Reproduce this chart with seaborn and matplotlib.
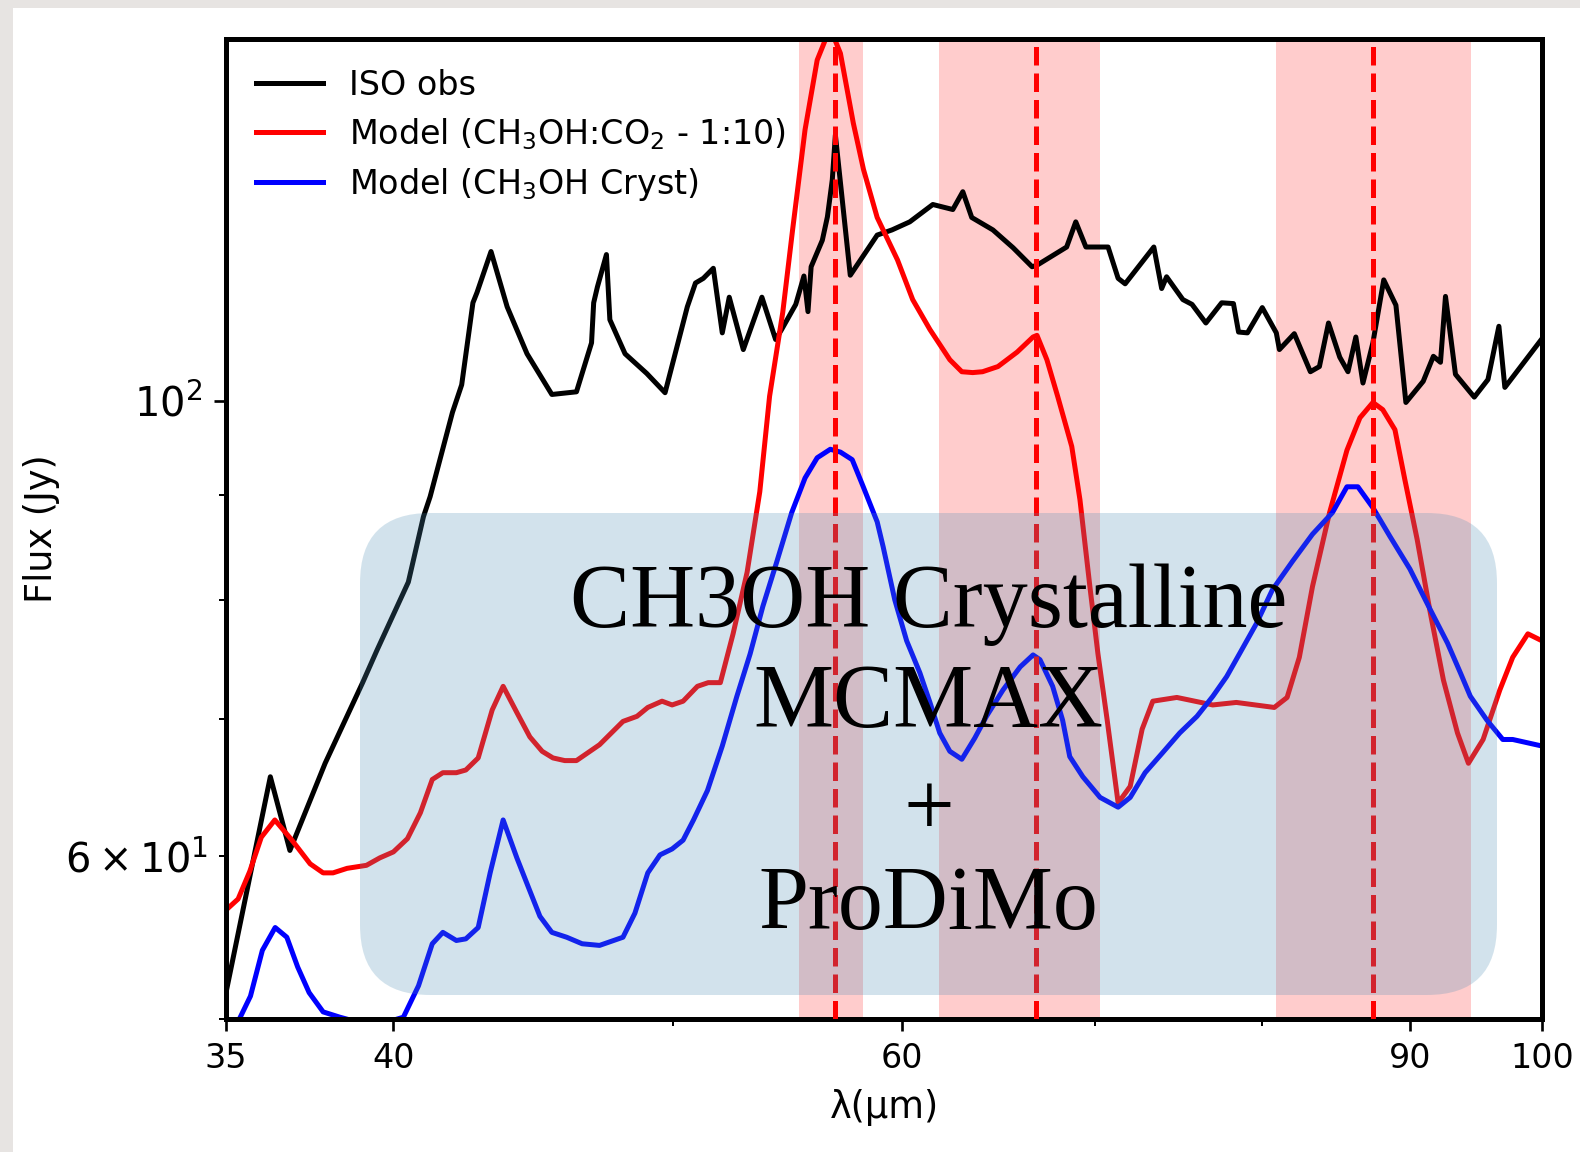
import numpy as np
import pandas as pd
import matplotlib
matplotlib.use("Agg")
import matplotlib.pyplot as plt
import seaborn as sns
from matplotlib.patches import FancyBboxPatch, Rectangle
from matplotlib.ticker import FixedLocator, FixedFormatter, NullFormatter, FuncFormatter

# ---------------- data ----------------
iso_wl = [35.03, 36.26, 36.83, 37.88, 39.03, 39.48, 40.48, 40.97, 41.19, 41.93, 42.24, 42.45,
          42.62, 42.76, 43.24, 43.8, 44.5, 45.39, 46.29, 46.85, 46.93, 47.07, 47.41, 47.54,
          48.12, 48.96, 49.68, 50.57, 50.9, 51.22, 51.63, 52.0, 52.29, 52.88, 53.67, 54.26,
          54.52, 55.14, 55.5, 55.68, 55.82, 56.32, 56.55, 56.77, 56.91, 57.59, 58.84, 59.54,
          60.39, 61.51, 62.5, 63.0, 63.45, 64.53, 65.58, 66.58, 66.84, 68.44, 68.94, 69.5,
          70.74, 71.31, 71.71, 73.37, 73.83, 74.12, 75.09, 75.64, 76.48, 77.45, 78.18, 78.5,
          79.06, 80.0, 80.9, 81.1, 82.07, 83.13, 83.73, 84.34, 85.1, 85.66, 86.2, 86.69,
          87.38, 88.14, 89.0, 89.71, 90.96, 91.7, 92.22, 92.59, 93.33, 94.74, 95.78, 96.62,
          97.08, 100.0]
iso_flux = [51.8, 65.6, 60.4, 66.6, 72.9, 75.6, 81.6, 87.8, 89.8, 98.7, 101.8, 107.1,
            111.6, 112.9, 118.2, 111.1, 105.4, 100.7, 101.0, 106.7, 111.6, 113.6, 117.8, 109.5,
            105.4, 103.1, 100.9, 111.1, 114.1, 114.7, 116.0, 107.9, 112.3, 105.9, 112.3, 107.1,
            108.3, 111.4, 115.0, 110.5, 116.2, 119.7, 122.9, 128.1, 134.7, 115.1, 120.4, 121.1,
            122.2, 124.6, 123.9, 126.4, 122.8, 121.1, 118.7, 116.2, 116.4, 118.8, 122.2, 118.8,
            118.8, 114.7, 114.0, 118.8, 113.4, 114.9, 112.0, 111.4, 109.1, 111.6, 111.5, 108.0,
            107.9, 111.0, 107.9, 105.9, 107.8, 103.3, 103.9, 109.1, 105.0, 103.3, 107.4, 102.0,
            106.7, 114.5, 111.3, 99.8, 102.2, 105.1, 104.4, 112.4, 103.0, 100.4, 102.4, 108.7,
            101.5, 107.2]

mix_wl = [35.05, 35.34, 35.67, 36.0, 36.39, 36.89, 37.43, 37.82, 38.12, 38.55, 39.15, 39.57,
          40.0, 40.45, 40.87, 41.26, 41.61, 42.06, 42.38, 42.8, 43.28, 43.66, 44.14, 44.6,
          45.04, 45.43, 45.86, 46.29, 47.15, 48.04, 48.58, 49.0, 49.56, 49.96, 50.4, 50.98,
          51.42, 51.92, 52.45, 53.04, 53.58, 54.0, 54.57, 55.0, 55.55, 56.09, 56.45, 56.82,
          57.14, 57.73, 58.2, 58.84, 59.8, 60.53, 61.37, 62.35, 62.95, 63.5, 64.0, 64.79,
          65.79, 66.63, 66.84, 67.37, 67.95, 68.72, 69.17, 69.72, 70.17, 70.69, 71.31, 72.0,
          72.69, 73.31, 74.73, 75.45, 76.9, 78.36, 80.77, 81.6, 82.4, 83.27, 84.41, 85.59,
          86.48, 87.38, 88.07, 88.93, 89.64, 90.52, 91.48, 92.44, 93.48, 94.3, 95.41, 96.69,
          97.69, 98.88, 100.0]
mix_flux = [56.6, 57.2, 59.0, 61.3, 62.5, 61.1, 59.5, 58.9, 58.9, 59.2, 59.4, 59.9,
            60.3, 61.2, 63.0, 65.4, 65.9, 65.9, 66.1, 67.0, 70.7, 72.6, 70.5, 68.6,
            67.5, 67.0, 66.8, 66.8, 68.0, 69.8, 70.2, 70.9, 71.4, 71.1, 71.4, 72.6,
            72.9, 72.9, 77.0, 82.5, 90.3, 100.5, 110.4, 121.1, 135.5, 146.5, 149.8, 150.5,
            147.6, 136.5, 129.6, 122.8, 117.1, 112.0, 108.3, 104.7, 103.3, 103.2, 103.3, 103.9,
            105.6, 107.4, 107.6, 104.7, 100.5, 95.0, 89.5, 81.2, 75.3, 69.9, 63.7, 64.9,
            69.2, 71.4, 71.7, 71.5, 71.1, 71.3, 70.9, 71.7, 75.0, 81.2, 88.2, 94.6,
            98.1, 99.8, 99.0, 96.8, 91.5, 85.6, 78.8, 73.1, 68.9, 66.6, 68.4, 72.3,
            75.0, 77.0, 76.4]

cryst_wl = [35.0, 35.4, 35.69, 36.03, 36.4, 36.74, 37.06, 37.4, 37.82, 38.33, 38.94, 39.74,
            40.32, 40.81, 41.26, 41.61, 42.06, 42.38, 42.8, 43.21, 43.66, 44.14, 44.54, 44.96,
            45.39, 45.93, 46.5, 47.15, 48.04, 48.5, 49.0, 49.48, 49.96, 50.4, 50.82, 51.39,
            52.0, 52.61, 53.17, 53.71, 54.3, 54.96, 55.55, 56.09, 56.68, 57.14, 57.68, 58.19,
            58.84, 59.12, 59.67, 60.24, 60.88, 61.37, 61.85, 62.35, 62.95, 63.6, 64.2, 65.05,
            65.95, 66.63, 67.0, 67.68, 68.22, 68.61, 69.33, 70.29, 71.31, 72.0, 72.86, 73.89,
            74.9, 75.94, 76.91, 77.76, 78.56, 79.63, 80.65, 81.94, 83.27, 84.6, 85.59, 86.34,
            87.38, 88.57, 90.0, 91.48, 92.74, 93.7, 94.44, 95.7, 96.92, 97.69, 100.0]
cryst_flux = [48.6, 50.1, 51.3, 54.0, 55.4, 54.8, 53.0, 51.5, 50.4, 50.1, 49.8, 49.8,
              50.1, 51.9, 54.4, 55.1, 54.6, 54.7, 55.4, 58.9, 62.5, 59.9, 58.0, 56.1,
              55.1, 54.8, 54.4, 54.3, 54.8, 56.3, 58.9, 60.1, 60.5, 61.1, 62.5, 64.6,
              67.9, 71.8, 75.3, 79.4, 83.4, 88.2, 91.7, 93.8, 94.7, 94.4, 93.6, 90.8,
              87.3, 84.9, 80.0, 76.4, 73.7, 71.3, 68.9, 67.5, 66.9, 68.5, 70.2, 72.3,
              74.2, 75.2, 74.8, 72.6, 69.9, 67.1, 65.6, 64.1, 63.4, 64.1, 65.9, 67.4,
              68.9, 70.2, 71.8, 73.4, 75.3, 77.9, 80.9, 83.5, 86.1, 88.2, 90.8, 90.8,
              88.7, 85.9, 82.8, 79.1, 76.2, 73.7, 71.8, 69.9, 68.4, 68.4, 67.9]

band_centers = [56.9, 66.8, 87.4]
band_lo = [55.3, 61.8, 80.9]
band_hi = [58.2, 70.3, 94.5]

x_ticks = [35, 40, 60, 90, 100]
x_tick_labels = ["35", "40", "60", "90", "100"]
x_minor = [50, 70, 80]
y_ticks = [100]
y_minor = [50, 60, 70, 80, 90]
y_minor_labeled = {60: r"$\mathdefault{6\times10^{1}}$"}
y_major_labels = {100: r"$\mathdefault{10^{2}}$"}

series_labels = ["ISO obs",
                 r"Model (CH$_3$OH:CO$_2$ - 1:10)",
                 r"Model (CH$_3$OH Cryst)"]
overlay_lines = ["CH3OH Crystalline", "MCMAX", "+", "ProDiMo"]

# ---------------- figure ----------------
DPI = 240
W, H = 1580, 1152
fig = plt.figure(figsize=(W / DPI, H / DPI), dpi=DPI)
fig.patch.set_facecolor("#e7e4e2")
fig.add_artist(Rectangle((13 / W, 0), 1 - 13 / W, 1 - 8 / H, transform=fig.transFigure,
                         facecolor="white", edgecolor="none", zorder=-5))

ax = fig.add_axes([226 / W, 1 - 1019 / H, (1542 - 226) / W, (1019 - 39) / H])
ax.set_facecolor("white")

for lo, hi in zip(band_lo, band_hi):
    ax.axvspan(lo, hi, color="red", alpha=0.2, lw=0, zorder=0)

df_iso = pd.DataFrame({"wl": iso_wl, "flux": iso_flux})
df_mix = pd.DataFrame({"wl": mix_wl, "flux": mix_flux})
df_cry = pd.DataFrame({"wl": cryst_wl, "flux": cryst_flux})

sns.lineplot(data=df_iso, x="wl", y="flux", ax=ax, color="black", lw=1.5,
             label=series_labels[0], estimator=None, sort=False, zorder=2)
sns.lineplot(data=df_mix, x="wl", y="flux", ax=ax, color="red", lw=1.5,
             label=series_labels[1], estimator=None, sort=False, zorder=2)
sns.lineplot(data=df_cry, x="wl", y="flux", ax=ax, color="blue", lw=1.5,
             label=series_labels[2], estimator=None, sort=False, zorder=2)

for c in band_centers:
    ax.axvline(c, color="red", ls="--", lw=1.5, zorder=3)

ax.set_xscale("log")
ax.set_yscale("log")
ax.set_xlim(35, 100)
ax.set_ylim(50, 150)

ax.xaxis.set_major_locator(FixedLocator(x_ticks))
ax.xaxis.set_major_formatter(FixedFormatter(x_tick_labels))
ax.xaxis.set_minor_locator(FixedLocator(x_minor))
ax.xaxis.set_minor_formatter(NullFormatter())

ax.yaxis.set_major_locator(FixedLocator(y_ticks))
ax.yaxis.set_major_formatter(FuncFormatter(lambda v, p: y_major_labels.get(int(round(v)), "")))
ax.yaxis.set_minor_locator(FixedLocator(y_minor))
ax.yaxis.set_minor_formatter(FuncFormatter(lambda v, p: y_minor_labeled.get(int(round(v)), "")))

for s in ax.spines.values():
    s.set_linewidth(1.5)
ax.tick_params(axis="x", which="both", labelsize=10)
ax.tick_params(axis="y", which="both", labelsize=12)

ax.set_xlabel("λ(μm)", fontsize=11)
ax.set_ylabel("Flux (Jy)", fontsize=11, labelpad=1.6)

ax.legend(loc="upper left", frameon=False, fontsize=10, labelspacing=0.42)

# overlay box with text (figure pixel positions converted to inches)
box = FancyBboxPatch((360 / DPI, (H - 995) / DPI), (1497 - 360) / DPI, (995 - 513) / DPI,
                     boxstyle="round,pad=0,rounding_size=%f" % (70 / DPI),
                     transform=fig.dpi_scale_trans, facecolor="#4f8fb5", alpha=0.25,
                     edgecolor="none", zorder=10)
fig.add_artist(box)

baselines_px = [627, 727, 835, 929]
for txt, by in zip(overlay_lines, baselines_px):
    fig.text(928.5 / DPI, (H - by) / DPI, txt, transform=fig.dpi_scale_trans,
             ha="center", va="baseline", fontsize=27, family="Liberation Serif",
             color="black", zorder=11)

fig.savefig("out.png", dpi=DPI, facecolor=fig.get_facecolor())
